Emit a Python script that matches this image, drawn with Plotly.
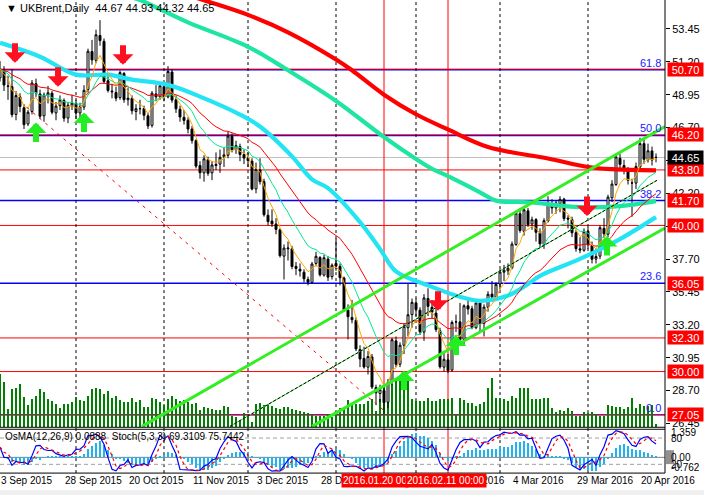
import pandas as pd
import plotly.graph_objects as go

# ---------------- data (daily bars, 3 Sep 2015 .. 26 Apr 2016) ----------------
open_ = [50.10, 50.60, 49.55, 49.50, 47.60, 48.80, 48.05, 46.95, 47.80, 49.70,
         49.00, 47.50, 48.90, 49.05, 47.70, 48.20, 48.55, 47.35, 48.20, 48.35,
         47.70, 48.10, 49.30, 51.90, 51.30, 53.00, 52.60, 49.90, 49.20, 49.10,
         48.75, 50.40, 48.60, 48.70, 47.80, 48.00, 48.00, 47.50, 46.85, 49.00,
         48.80, 49.50, 48.80, 50.50, 48.60, 47.95, 47.40, 47.20, 46.60, 45.80,
         44.10, 43.60, 44.50, 43.60, 44.10, 44.20, 44.70, 44.80, 46.10, 45.20,
         45.40, 44.85, 44.60, 44.40, 42.50, 43.80, 43.00, 40.70, 40.30, 40.10,
         39.70, 37.90, 38.40, 38.40, 37.20, 37.00, 36.80, 36.30, 36.10, 37.40,
         37.80, 36.60, 37.70, 36.50, 37.40, 37.20, 36.40, 34.20, 33.70, 33.50,
         31.50, 30.90, 30.30, 31.00, 28.90, 28.50, 28.70, 27.90, 29.30, 32.10,
         30.50, 31.80, 33.00, 33.90, 34.70, 34.20, 32.70, 35.00, 34.40, 34.00,
         32.80, 30.30, 30.80, 30.10, 33.40, 33.40, 32.20, 34.50, 34.30, 33.00,
         34.70, 33.30, 34.40, 35.30, 35.10, 36.00, 36.80, 36.90, 37.10, 38.70,
         40.80, 39.60, 41.00, 40.10, 40.40, 39.50, 38.70, 40.30, 41.50, 41.20,
         41.50, 41.80, 40.50, 40.40, 39.50, 38.40, 38.30, 39.60, 38.60, 37.70,
         37.90, 39.80, 39.40, 41.90, 42.80, 44.60, 44.10, 43.80, 42.90, 42.90,
         44.00, 45.60, 44.50, 45.10, 44.67]
high = [51.25, 50.90, 50.25, 50.70, 49.20, 49.05, 48.30, 47.90, 49.95, 50.05,
        49.30, 49.10, 49.55, 49.20, 48.45, 48.90, 48.70, 48.45, 48.95, 48.60,
        48.40, 49.60, 52.10, 52.70, 53.40, 54.05, 52.80, 50.30, 49.70, 49.50,
        50.60, 50.50, 49.40, 48.90, 48.30, 48.60, 48.20, 47.70, 49.20, 49.60,
        49.80, 49.80, 50.90, 50.70, 48.90, 48.20, 47.90, 47.40, 46.80, 45.90,
        44.40, 44.80, 44.70, 44.40, 45.00, 45.20, 45.30, 46.40, 46.30, 45.80,
        45.60, 45.20, 45.00, 44.60, 44.30, 44.60, 43.20, 41.10, 41.10, 40.50,
        39.80, 38.70, 38.90, 38.60, 37.50, 37.40, 37.00, 36.50, 37.50, 38.20,
        37.90, 38.00, 37.90, 37.40, 39.10, 37.40, 36.50, 34.60, 34.90, 33.70,
        31.80, 31.70, 31.40, 31.20, 29.10, 29.10, 28.90, 29.50, 32.30, 32.40,
        32.00, 33.30, 36.00, 35.00, 35.00, 34.40, 35.30, 35.70, 34.90, 34.30,
        33.00, 31.40, 31.20, 33.50, 33.90, 34.70, 34.60, 35.00, 34.50, 34.80,
        34.80, 34.60, 35.50, 36.20, 36.10, 37.00, 37.30, 37.40, 38.90, 41.00,
        41.20, 41.30, 41.20, 40.60, 40.50, 39.80, 40.50, 42.00, 41.80, 41.70,
        42.00, 41.90, 40.70, 40.60, 39.70, 39.20, 39.80, 39.90, 38.90, 38.40,
        40.00, 40.50, 42.10, 43.10, 44.80, 44.90, 44.50, 44.00, 43.20, 44.30,
        46.00, 45.90, 45.60, 45.40, 44.93]
low = [49.85, 49.20, 48.60, 47.40, 47.20, 47.75, 46.60, 46.80, 47.60, 48.80,
       47.30, 47.10, 48.35, 47.60, 47.20, 47.90, 47.10, 47.00, 47.90, 47.30,
       47.20, 47.90, 49.10, 51.00, 51.10, 52.30, 49.70, 49.10, 48.70, 48.50,
       48.60, 48.40, 48.20, 47.60, 47.20, 47.60, 47.20, 46.60, 46.70, 48.50,
       48.60, 48.50, 48.70, 48.40, 47.70, 47.10, 46.90, 46.30, 45.60, 43.90,
       43.20, 43.00, 43.40, 43.10, 43.80, 43.60, 44.00, 44.60, 45.00, 44.90,
       44.40, 44.20, 44.00, 42.40, 42.20, 42.80, 40.60, 40.00, 39.90, 39.40,
       37.80, 36.30, 37.60, 37.00, 36.60, 36.50, 36.10, 35.90, 36.00, 37.20,
       36.50, 36.50, 36.20, 36.30, 36.90, 35.90, 34.10, 32.20, 33.30, 31.40,
       30.30, 30.20, 29.80, 28.80, 27.70, 27.90, 27.10, 27.50, 29.10, 30.30,
       30.30, 31.20, 32.40, 33.00, 33.80, 32.50, 32.10, 33.80, 33.60, 32.70,
       30.20, 30.00, 29.90, 30.00, 32.70, 32.00, 31.80, 33.90, 32.90, 32.90,
       32.70, 32.40, 34.10, 34.80, 35.00, 35.60, 36.20, 36.60, 37.00, 38.60,
       39.50, 39.30, 39.90, 39.70, 38.90, 38.50, 38.40, 40.20, 40.80, 40.80,
       40.90, 40.30, 39.80, 39.20, 38.20, 38.10, 38.20, 38.40, 37.40, 37.40,
       37.70, 39.20, 39.20, 41.60, 42.70, 43.70, 43.50, 42.80, 40.60, 42.50,
       43.80, 44.20, 44.30, 44.10, 44.32]
close = [50.68, 49.61, 49.52, 47.58, 48.89, 48.14, 46.90, 47.75, 49.75, 49.08,
         47.47, 48.92, 49.08, 47.75, 48.17, 48.60, 47.34, 48.23, 48.37, 47.69,
         48.13, 49.25, 51.92, 51.33, 53.05, 52.65, 49.86, 49.24, 49.15, 48.71,
         50.46, 48.61, 48.71, 47.85, 47.99, 47.99, 47.54, 46.81, 49.05, 48.80,
         49.56, 48.79, 50.54, 48.58, 47.98, 47.42, 47.19, 46.60, 45.81, 44.06,
         43.61, 44.56, 43.57, 44.14, 44.18, 44.66, 44.83, 46.12, 45.17, 45.46,
         44.86, 44.61, 44.44, 42.49, 43.84, 43.00, 40.73, 40.26, 40.11, 39.73,
         37.93, 38.45, 38.45, 37.19, 37.06, 36.88, 36.35, 36.11, 37.36, 37.89,
         36.62, 37.79, 36.46, 37.28, 37.22, 36.42, 34.23, 33.75, 33.55, 31.55,
         30.86, 30.31, 31.03, 28.94, 28.55, 28.76, 27.88, 29.25, 32.18, 30.50,
         31.80, 33.10, 33.89, 34.74, 34.24, 32.72, 35.04, 34.46, 34.06, 32.88,
         30.32, 30.84, 30.06, 33.36, 33.39, 32.18, 34.50, 34.28, 33.01, 34.69,
         33.27, 34.41, 35.29, 35.10, 35.97, 36.81, 36.93, 37.07, 38.72, 40.84,
         39.65, 41.07, 40.05, 40.39, 39.53, 38.74, 40.33, 41.54, 41.20, 41.54,
         41.79, 40.47, 40.44, 39.50, 38.41, 38.32, 39.60, 38.67, 37.69, 37.87,
         39.84, 39.43, 41.94, 42.83, 44.69, 44.18, 43.84, 43.10, 42.91, 44.03,
         45.60, 44.53, 45.11, 44.48, 44.65]
# tick volume, in pixels of bar height as drawn on the chart
volume = [53, 45, 18, 38, 39, 43, 30, 22, 28, 31,
          38, 35, 28, 26, 23, 19, 23, 23, 25, 30,
          27, 26, 31, 38, 39, 38, 33, 36, 29, 31,
          27, 25, 25, 29, 25, 27, 20, 20, 29, 28,
          25, 22, 28, 31, 28, 26, 27, 25, 23, 24,
          17, 20, 19, 18, 17, 17, 21, 20, 11, 10,
          7, 14, 12, 5, 23, 24, 22, 23, 21, 19,
          18, 20, 20, 18, 17, 16, 15, 14, 13, 11,
          11, 11, 13, 10, 16, 19, 18, 27, 24, 23,
          23, 23, 26, 28, 16, 28, 40, 34, 43, 49,
          48, 49, 49, 28, 26, 26, 26, 29, 26, 26,
          28, 28, 28, 29, 13, 29, 27, 24, 24, 21,
          23, 25, 39, 49, 29, 29, 28, 26, 31, 29,
          39, 39, 39, 28, 28, 28, 29, 29, 19, 15,
          17, 16, 19, 16, 11, 11, 15, 14, 15, 13,
          11, 11, 22, 21, 20, 20, 18, 20, 29, 19,
          23, 21, 21, 22, 3]
bars = list(range(len(close)))

# long moving averages, read at a few bars
ma_red_bars = [46, 51, 62, 72, 84, 88, 96, 104, 112, 122, 137, 147, 153, 164]
ma_red_vals = [55.86, 55.41, 54.41, 53.22, 51.36, 50.62, 48.95, 47.61, 46.57, 45.37, 44.58, 44.00, 43.85, 43.77]
ma_teal_bars = [33, 35, 47, 62, 72, 84, 96, 104, 108, 112, 120, 124, 132, 145, 155, 164]
ma_teal_vals = [55.60, 55.43, 53.90, 52.23, 50.62, 48.52, 46.05, 44.55, 43.88, 43.37, 42.27, 41.70, 41.59, 41.25, 41.32, 41.66]
ma_cyan_bars = [0, 10, 19, 27, 33, 42, 50, 60, 65, 73, 78, 82, 90, 95, 99, 107, 115, 120, 127, 132, 135, 145, 155, 164]
ma_cyan_vals = [52.50, 51.55, 50.32, 50.32, 49.98, 49.62, 48.82, 47.59, 46.77, 44.73, 43.16, 42.55, 40.23, 38.39,
                36.85, 35.90, 35.12, 34.84, 35.20, 36.00, 36.55, 37.71, 39.07, 40.57]

# drawn objects
up_channel_bars, up_channel_vals = [35.5, 166.25], [26.25, 46.77]
low_channel_bars, low_channel_vals = [78, 166.25], [26.25, 39.82]
mid_line_bars, mid_line_vals = [57.5, 164.25], [26.25, 43.09]
red_trend_bars, red_trend_vals = [6.75, 96.25], [48.07, 27.28]

down_arrow_bars = [3.75, 14.5, 30.75, 109.5, 146.75]
down_arrow_vals = [51.14, 49.50, 51.00, 34.16, 40.64]
up_arrow_bars = [9, 21, 101, 114, 151.75]
up_arrow_vals = [47.05, 47.73, 30.07, 32.46, 39.27]

red_levels = [50.70, 46.20, 43.80, 40.00, 32.30, 30.00, 27.05]
fibo_levels = [50.66, 46.16, 41.70, 36.05, 27.05]
fibo_text = ["61.8", "50.0", "38.2", "23.6", "0.0"]
price_tags = [50.70, 46.20, 43.80, 41.70, 40.00, 36.05, 32.30, 30.00, 27.05]
last_price = 44.65
price_ticks = [53.45, 51.20, 48.95, 46.70, 44.45, 42.20, 39.95, 37.70, 35.45, 33.20, 30.95, 28.70, 26.45]

tick_bars = [0, 16, 32, 48, 64, 80, 96, 112, 128, 144, 160]
tick_text = ["3 Sep 2015", "28 Sep 2015", "20 Oct 2015", "11 Nov 2015", "3 Dec 2015", "28 Dec 2015",
             "20 Jan 2016", "11 Feb 2016", "4 Mar 2016", "29 Mar 2016", "20 Apr 2016"]
separator_bars = [19, 41, 62, 84, 104, 125, 147]   # first bar of each month
event_bars = [96, 112]
event_text = ["2016.01.20 00", "2016.02.11 00:00"]

# ---------------- indicators from the bars ----------------
c = pd.Series(close)
h = pd.Series(high)
l = pd.Series(low)
ema_fast = c.ewm(span=5, adjust=False).mean()
ema_mid = c.ewm(span=13, adjust=False).mean()
ema_slow = c.ewm(span=26, adjust=False).mean()

macd = c.ewm(span=12, adjust=False).mean() - c.ewm(span=26, adjust=False).mean()
osma = macd - macd.rolling(9, min_periods=1).mean()

ll = l.rolling(5, min_periods=1).min()
hh = h.rolling(5, min_periods=1).max()
stoch_k = 100 * (c - ll).rolling(3, min_periods=1).sum() / (hh - ll).rolling(3, min_periods=1).sum()
stoch_d = stoch_k.rolling(3, min_periods=1).mean()

# ---------------- geometry (pixels of the 704x497 window) ----------------
W, H = 704, 497
XR = 665 / W


def py(p):
    return 1 - p / H


PX_PER_UNIT = 14.67
PRICE_TOP = 55.43
price_range = [PRICE_TOP - 429 / PX_PER_UNIT, PRICE_TOP]
FONT = "Liberation Sans"
FS = 10

fig = go.Figure()

# volume behind everything (base axis)
fig.add_trace(go.Bar(x=bars, y=volume, yaxis="y", marker=dict(color="#008000", line_width=0),
                     width=0.3, hoverinfo="skip", showlegend=False))

fig.add_trace(go.Candlestick(
    x=bars, open=open_, high=high, low=low, close=close, yaxis="y2",
    increasing=dict(line=dict(color="black", width=1), fillcolor="white"),
    decreasing=dict(line=dict(color="black", width=1), fillcolor="black"),
    whiskerwidth=0, showlegend=False))

# long MAs
for xs, ys, col in [(ma_red_bars, ma_red_vals, "#FF0000"),
                    (ma_teal_bars, ma_teal_vals, "#1EE6A0"),
                    (ma_cyan_bars, ma_cyan_vals, "#22E4F2")]:
    fig.add_trace(go.Scatter(x=xs, y=ys, yaxis="y2", mode="lines",
                             line=dict(color=col, width=4.2, shape="spline"),
                             hoverinfo="skip", showlegend=False))

# short MAs
for s, col in [(ema_slow, "#FF0000"), (ema_mid, "#00E890"), (ema_fast, "#FFA500")]:
    fig.add_trace(go.Scatter(x=bars, y=s, yaxis="y2", mode="lines",
                             line=dict(color=col, width=1), hoverinfo="skip", showlegend=False))

# channel and trend lines
fig.add_trace(go.Scatter(x=red_trend_bars, y=red_trend_vals, yaxis="y2", mode="lines",
                         line=dict(color="#FF0000", width=1, dash="3px,5px"), showlegend=False))
fig.add_trace(go.Scatter(x=mid_line_bars, y=mid_line_vals, yaxis="y2", mode="lines",
                         line=dict(color="#33DD33", width=1), showlegend=False))
fig.add_trace(go.Scatter(x=mid_line_bars, y=mid_line_vals, yaxis="y2", mode="lines",
                         line=dict(color="black", width=1, dash="3px,2px"), showlegend=False))
for xs, ys in [(up_channel_bars, up_channel_vals), (low_channel_bars, low_channel_vals)]:
    fig.add_trace(go.Scatter(x=xs, y=ys, yaxis="y2", mode="lines",
                             line=dict(color="#33EE22", width=3), showlegend=False))

# oscillator window
fig.add_trace(go.Bar(x=bars, y=osma, yaxis="y3", marker=dict(color="#1EB4F0", line_width=0),
                     width=0.6, hoverinfo="skip", showlegend=False))
fig.add_trace(go.Scatter(x=bars, y=stoch_k, yaxis="y4", mode="lines",
                         line=dict(color="#0000FF", width=1.2), showlegend=False))
fig.add_trace(go.Scatter(x=bars, y=stoch_d, yaxis="y4", mode="lines",
                         line=dict(color="#FF0000", width=1.2, dash="3px,3px"), showlegend=False))

shapes = []
for lv in fibo_levels:
    shapes.append(dict(type="line", xref="paper", x0=0, x1=XR, yref="y2", y0=lv, y1=lv,
                       line=dict(color="#0000FF", width=1.5), layer="below"))
for lv in red_levels:
    shapes.append(dict(type="line", xref="paper", x0=0, x1=XR, yref="y2", y0=lv, y1=lv,
                       line=dict(color="#FF0000", width=1), layer="below"))
shapes.append(dict(type="line", xref="paper", x0=0, x1=XR, yref="y2", y0=last_price, y1=last_price,
                   line=dict(color="#C0C0C0", width=1), layer="below"))
for b in separator_bars:
    shapes.append(dict(type="line", xref="x", x0=b, x1=b, yref="paper", y0=py(475), y1=1,
                       line=dict(color="black", width=1, dash="3px,3px"), layer="below"))
for b in event_bars:
    shapes.append(dict(type="line", xref="x", x0=b, x1=b, yref="paper", y0=py(475), y1=1,
                       line=dict(color="#FF0000", width=1), layer="below"))
for lv in [80, 20]:
    shapes.append(dict(type="line", xref="paper", x0=0, x1=XR, yref="y4", y0=lv, y1=lv,
                       line=dict(color="#A0A0A0", width=1, dash="4px,3px"), layer="below"))
shapes.append(dict(type="line", xref="paper", x0=0, x1=XR, yref="y3", y0=0, y1=0,
                   line=dict(color="#808080", width=1), layer="below"))
# window borders
for yy in [429, 431, 475]:
    shapes.append(dict(type="line", xref="paper", x0=0, x1=XR, yref="paper", y0=py(yy), y1=py(yy),
                       line=dict(color="black", width=1), layer="above"))
shapes.append(dict(type="line", xref="paper", x0=XR, x1=XR, yref="paper", y0=py(475), y1=1,
                   line=dict(color="black", width=1), layer="above"))
shapes.append(dict(type="rect", xref="paper", x0=0, x1=1, yref="paper", y0=0, y1=py(492),
                   fillcolor="#F0F0F0", line_width=0, layer="above"))
shapes.append(dict(type="rect", xref="paper", x0=666 / W, x1=674 / W, yref="paper", y0=py(466), y1=py(452),
                   fillcolor="#909090", line_width=0, layer="above"))

ann = []
# arrows
for b, v in zip(down_arrow_bars, down_arrow_vals):
    ann.append(dict(x=b, y=v, xref="x", yref="y2", text="", showarrow=True, ax=0, ay=-21,
                    arrowhead=1, arrowwidth=6, arrowsize=0.58, arrowcolor="#FF1020"))
for b, v in zip(up_arrow_bars, up_arrow_vals):
    ann.append(dict(x=b, y=v, xref="x", yref="y2", text="", showarrow=True, ax=0, ay=21,
                    arrowhead=1, arrowwidth=6, arrowsize=0.58, arrowcolor="#22EE22"))

ann.append(dict(x=4 / W, y=py(8), xref="paper", yref="paper", xanchor="left", yanchor="middle",
                text="▼ UKBrent,Daily  44.67 44.93 44.32 44.65", showarrow=False,
                font=dict(size=FS + 1, color="black")))
ann.append(dict(x=3 / W, y=py(438), xref="paper", yref="paper", xanchor="left", yanchor="middle",
                text="OsMA(12,26,9) 0.0888  Stoch(5,3,3) 69.3109 75.7442", showarrow=False,
                font=dict(size=FS, color="black")))

for lv, t in zip(fibo_levels, fibo_text):
    ann.append(dict(x=662 / W, y=lv, xref="paper", yref="y2", xanchor="right", yanchor="bottom",
                    text=t, showarrow=False, font=dict(size=FS + 1, color="#2020FF"), borderpad=0))

for lv in price_tags:
    ann.append(dict(x=667 / W, y=lv, xref="paper", yref="y2", xanchor="left", yanchor="middle",
                    text=f"{lv:.2f}", showarrow=False, bgcolor="#FF0000", width=35, height=13,
                    borderpad=0, font=dict(size=FS + 1, color="white")))
ann.append(dict(x=667 / W, y=last_price, xref="paper", yref="y2", xanchor="left", yanchor="middle",
                text=f"{last_price:.2f}", showarrow=False, bgcolor="black", width=35, height=13,
                borderpad=0, font=dict(size=FS + 1, color="white")))

for txt, yy in [("1.359", 434), ("80", 440), ("0.00", 459), ("-0.762", 469), ("20", 466)]:
    ann.append(dict(x=670 / W, y=py(yy), xref="paper", yref="paper", xanchor="left", yanchor="middle",
                    text=txt, showarrow=False, font=dict(size=FS, color="black"), borderpad=0))

for b, t in zip(tick_bars, tick_text):
    ann.append(dict(x=b, y=py(482), xref="x", yref="paper", xanchor="left", yanchor="middle",
                    text=t, showarrow=False, font=dict(size=FS, color="black"), borderpad=0))
for xc, t in zip([375.5, 446], event_text):
    ann.append(dict(x=xc / W, y=py(482), xref="paper", yref="paper", xanchor="center", yanchor="middle",
                    text=t, showarrow=False, bgcolor="#FF0000", borderpad=1,
                    font=dict(size=FS, color="white")))

fig.update_layout(
    width=W, height=H,
    margin=dict(l=0, r=0, t=0, b=0),
    paper_bgcolor="white", plot_bgcolor="white",
    font=dict(family=FONT, size=FS, color="black"),
    barmode="overlay", bargap=0,
    showlegend=False,
    xaxis=dict(domain=[0, XR], range=[0, 166.25], visible=False, anchor="y3",
               rangeslider=dict(visible=False), fixedrange=True),
    yaxis=dict(domain=[py(429), 1], range=[0, 429], visible=False, fixedrange=True),
    yaxis2=dict(overlaying="y", side="right", anchor="x", range=price_range,
                tickvals=price_ticks, ticktext=[f"{v:.2f}" for v in price_ticks],
                ticks="outside", ticklen=4, tickcolor="black", showgrid=False, zeroline=False,
                showline=False, tickfont=dict(size=FS + 1, color="black"), fixedrange=True),
    yaxis3=dict(domain=[py(475), py(431)], range=[-0.762, 1.359], visible=False, fixedrange=True),
    yaxis4=dict(overlaying="y3", range=[0, 100], visible=False, fixedrange=True),
    shapes=shapes,
    annotations=ann,
)

# no page margin, so the 704x497 figure fills the window exactly
fig.write_html("out.html", config=dict(displayModeBar=False),
               post_script="document.body.style.margin='0';document.body.style.overflow='hidden';")
